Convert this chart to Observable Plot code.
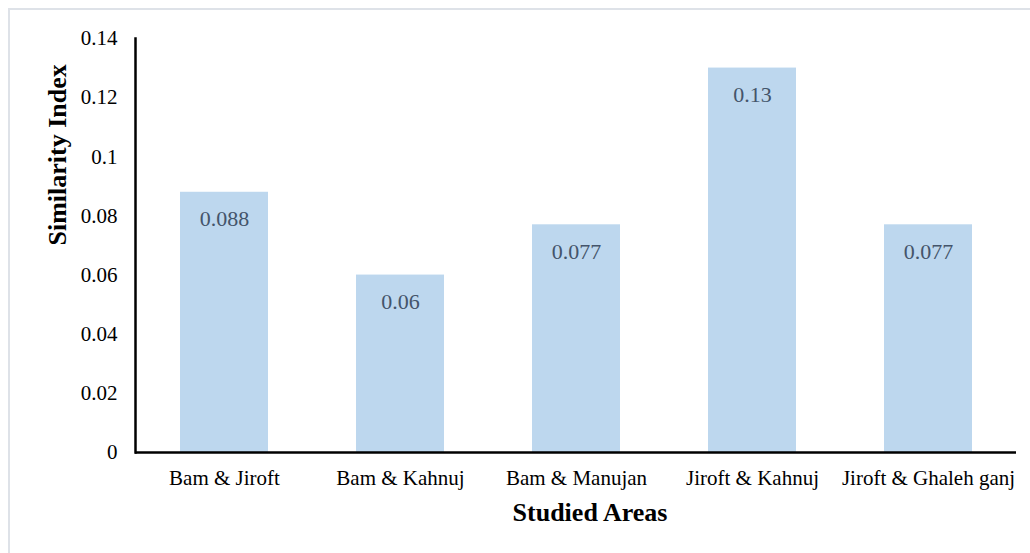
<!DOCTYPE html>
<html>
<head>
<meta charset="utf-8">
<script src="https://cdn.jsdelivr.net/npm/d3@7"></script>
<script src="https://cdn.jsdelivr.net/npm/@observablehq/plot@0.6"></script>
<style>
  html, body { margin: 0; padding: 0; background: #fff; }
  #wrap { position: relative; width: 1030px; height: 553px; overflow: hidden; }
  #border { position: absolute; left: 8px; top: 8px; right: 0; bottom: 0;
            border-top: 2px solid #DEE2E8; border-left: 2px solid #DEE2E8; pointer-events: none; }
  #chart { position: absolute; left: 0; top: 0; }
  #chart svg, #chart svg text { font-family: "Liberation Serif", "Times New Roman", serif; }
</style>
</head>
<body>
<div id="wrap"><div id="border"></div><div id="chart"></div></div>
<script>
const categories = ["Bam & Jiroft", "Bam & Kahnuj", "Bam & Manujan", "Jiroft & Kahnuj", "Jiroft & Ghaleh ganj"];
const values = [0.088, 0.06, 0.077, 0.13, 0.077];
const valueLabels = ["0.088", "0.06", "0.077", "0.13", "0.077"];
const yTicks = [0, 0.02, 0.04, 0.06, 0.08, 0.1, 0.12, 0.14];
const yTickLabels = ["0", "0.02", "0.04", "0.06", "0.08", "0.1", "0.12", "0.14"];
const xTitle = "Studied Areas";
const yTitle = "Similarity Index";

const data = categories.map((c, i) => ({category: c, value: values[i], label: valueLabels[i]}));
const serif = "Liberation Serif";

const chart = Plot.plot({
  width: 1030,
  height: 553,
  marginLeft: 135,
  marginRight: 14,
  marginTop: 38,
  marginBottom: 101,
  style: {fontFamily: serif, background: "transparent", overflow: "visible"},
  x: {domain: categories, paddingInner: 0.5, paddingOuter: 0.25, label: null},
  y: {domain: [0, 0.14], label: null},
  marks: [
    Plot.barY(data, {x: "category", y: "value", fill: "#BDD7EE"}),
    Plot.text(data, {x: "category", y: "value", text: "label", dy: 27, fontSize: 22, fill: "#44546A", fontFamily: serif}),
    Plot.axisY({ticks: yTicks, tickFormat: (d, i) => yTickLabels[i], tickSize: 0, tickPadding: 18, fontSize: 21, fontFamily: serif, fill: "#000", label: null}),
    Plot.axisX({tickSize: 0, tickPadding: 18, fontSize: 21, fontFamily: serif, fill: "#000", label: null}),
    Plot.ruleY([0], {stroke: "#000", strokeWidth: 2.5}),
    Plot.frame({anchor: "left", stroke: "#000", strokeWidth: 2.5}),
    Plot.text([xTitle], {frameAnchor: "bottom", dy: 68, dx: 14, fontSize: 26, fontWeight: "bold", fill: "#000", fontFamily: serif}),
    Plot.text([yTitle], {frameAnchor: "left", rotate: -90, dx: -78, fontSize: 26, fontWeight: "bold", fill: "#000", fontFamily: serif})
  ]
});
document.getElementById("chart").appendChild(chart);
</script>
</body>
</html>
